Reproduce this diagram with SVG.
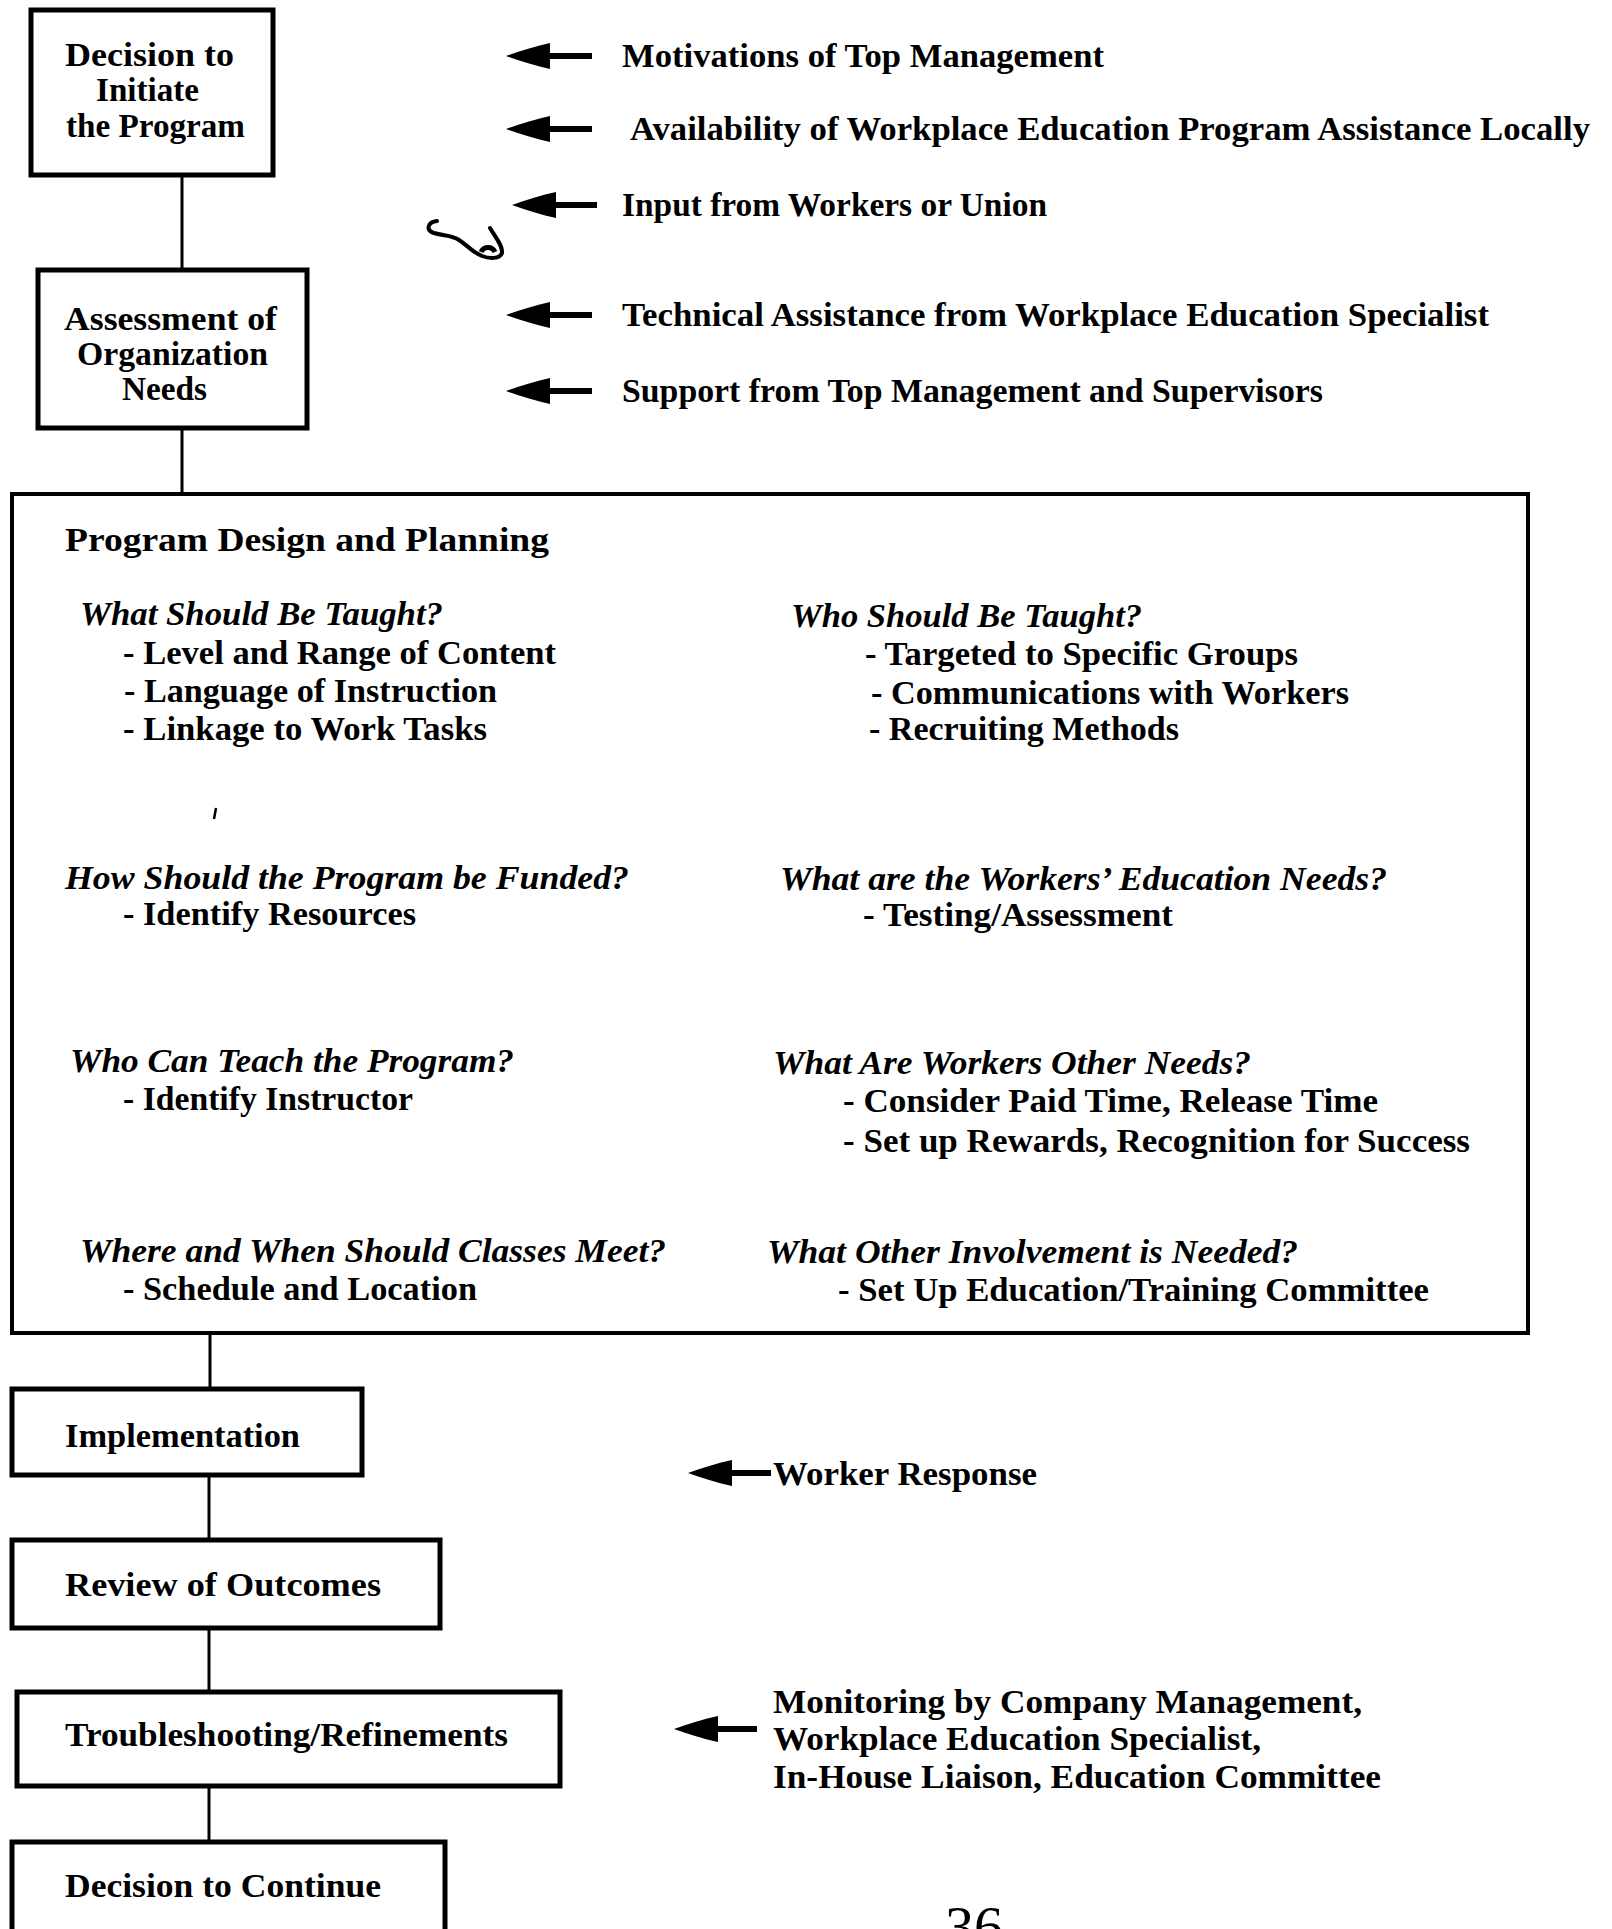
<svg xmlns="http://www.w3.org/2000/svg" width="1612" height="1929" viewBox="0 0 1612 1929">
<style>
text{font-family:"Liberation Serif","Times New Roman",serif;font-weight:bold;font-size:34px;fill:#000}
.it{font-style:italic}
.box{fill:none;stroke:#000;stroke-width:5}
.big{fill:none;stroke:#000;stroke-width:4}
.conn{stroke:#000;stroke-width:3;fill:none}
.arr{stroke:#000;stroke-width:6;fill:none;marker-end:url(#ah)}
</style>
<defs>
<marker id="ah" markerUnits="userSpaceOnUse" markerWidth="46" markerHeight="30" viewBox="0 -15 46 30" refX="20" refY="0" orient="auto">
<path d="M0,-13 C14,-10 30,-5 44,0 C30,5 14,10 0,13 Z" fill="#000"/>
</marker>
</defs>
<rect width="1612" height="1929" fill="#fff"/>

<g id="connectors">
<line class="conn" x1="182" y1="176" x2="182" y2="268"/>
<line class="conn" x1="182" y1="428" x2="182" y2="492"/>
<line class="conn" x1="210" y1="1335" x2="210" y2="1387"/>
<line class="conn" x1="209" y1="1477" x2="209" y2="1538"/>
<line class="conn" x1="209" y1="1630" x2="209" y2="1690"/>
<line class="conn" x1="209" y1="1788" x2="209" y2="1840"/>
<path class="arr" d="M592,56 L530,56"/>
<path class="arr" d="M592,129 L530,129"/>
<path class="arr" d="M597,205 L536,205"/>
<path class="arr" d="M592,315 L530,315"/>
<path class="arr" d="M592,391 L530,391"/>
<path class="arr" d="M771,1473 L712,1473"/>
<path class="arr" d="M757,1729 L698,1729"/>
</g>

<g id="decision-initiate">
<rect class="box" x="31" y="10" width="242" height="165"/>
<text x="65" y="66" textLength="169" lengthAdjust="spacingAndGlyphs">Decision to</text>
<text x="96" y="101" textLength="103" lengthAdjust="spacingAndGlyphs">Initiate</text>
<text x="66" y="137" textLength="179" lengthAdjust="spacingAndGlyphs">the Program</text>
</g>

<g id="assessment">
<rect class="box" x="38" y="270" width="269" height="158"/>
<text x="64" y="330" textLength="213" lengthAdjust="spacingAndGlyphs">Assessment of</text>
<text x="77" y="365" textLength="191" lengthAdjust="spacingAndGlyphs">Organization</text>
<text x="122" y="400" textLength="85" lengthAdjust="spacingAndGlyphs">Needs</text>
</g>

<g id="inputs-top">
<text x="622" y="67" textLength="482" lengthAdjust="spacingAndGlyphs">Motivations of Top Management</text>
<text x="630" y="140" textLength="960" lengthAdjust="spacingAndGlyphs">Availability of Workplace Education Program Assistance Locally</text>
<text x="622" y="216" textLength="425" lengthAdjust="spacingAndGlyphs">Input from Workers or Union</text>
<text x="622" y="326" textLength="867" lengthAdjust="spacingAndGlyphs">Technical Assistance from Workplace Education Specialist</text>
<text x="622" y="402" textLength="701" lengthAdjust="spacingAndGlyphs">Support from Top Management and Supervisors</text>
</g>

<g id="mark">
<path d="M437,221 C428,222 425,230 434,233 C444,236 452,235 459,240 C467,245 472,252 482,256 C490,259 500,259 502,253 C503,246 496,238 490,228" fill="none" stroke="#000" stroke-width="4" stroke-linecap="round"/>
<path d="M481,252 C484,246 492,246 495,252" fill="none" stroke="#000" stroke-width="5"/>
<line x1="216" y1="808" x2="214" y2="819" stroke="#000" stroke-width="2.5"/>
</g>

<g id="program-design">
<rect class="big" x="12" y="494" width="1516" height="839"/>
<text x="65" y="551" textLength="484" lengthAdjust="spacingAndGlyphs">Program Design and Planning</text>
<text class="it" x="80" y="625" textLength="363" lengthAdjust="spacingAndGlyphs">What Should Be Taught?</text>
<text x="123" y="664" textLength="433" lengthAdjust="spacingAndGlyphs">- Level and Range of Content</text>
<text x="124" y="702" textLength="373" lengthAdjust="spacingAndGlyphs">- Language of Instruction</text>
<text x="123" y="740" textLength="364" lengthAdjust="spacingAndGlyphs">- Linkage to Work Tasks</text>
<text class="it" x="65" y="889" textLength="564" lengthAdjust="spacingAndGlyphs">How Should the Program be Funded?</text>
<text x="123" y="925" textLength="293" lengthAdjust="spacingAndGlyphs">- Identify Resources</text>
<text class="it" x="70" y="1072" textLength="444" lengthAdjust="spacingAndGlyphs">Who Can Teach the Program?</text>
<text x="123" y="1110" textLength="290" lengthAdjust="spacingAndGlyphs">- Identify Instructor</text>
<text class="it" x="80" y="1262" textLength="586" lengthAdjust="spacingAndGlyphs">Where and When Should Classes Meet?</text>
<text x="123" y="1300" textLength="354" lengthAdjust="spacingAndGlyphs">- Schedule and Location</text>
<text class="it" x="791" y="627" textLength="351" lengthAdjust="spacingAndGlyphs">Who Should Be Taught?</text>
<text x="865" y="665" textLength="433" lengthAdjust="spacingAndGlyphs">- Targeted to Specific Groups</text>
<text x="871" y="704" textLength="478" lengthAdjust="spacingAndGlyphs">- Communications with Workers</text>
<text x="869" y="740" textLength="310" lengthAdjust="spacingAndGlyphs">- Recruiting Methods</text>
<text class="it" x="780" y="890" textLength="607" lengthAdjust="spacingAndGlyphs">What are the Workers’ Education Needs?</text>
<text x="863" y="926" textLength="310" lengthAdjust="spacingAndGlyphs">- Testing/Assessment</text>
<text class="it" x="773" y="1074" textLength="478" lengthAdjust="spacingAndGlyphs">What Are Workers Other Needs?</text>
<text x="843" y="1112" textLength="535" lengthAdjust="spacingAndGlyphs">- Consider Paid Time, Release Time</text>
<text x="843" y="1152" textLength="627" lengthAdjust="spacingAndGlyphs">- Set up Rewards, Recognition for Success</text>
<text class="it" x="767" y="1263" textLength="531" lengthAdjust="spacingAndGlyphs">What Other Involvement is Needed?</text>
<text x="838" y="1301" textLength="591" lengthAdjust="spacingAndGlyphs">- Set Up Education/Training Committee</text>
</g>

<g id="implementation">
<rect class="box" x="12" y="1389" width="350" height="86"/>
<text x="65" y="1447" textLength="235" lengthAdjust="spacingAndGlyphs">Implementation</text>
</g>
<g id="review">
<rect class="box" x="12" y="1540" width="428" height="88"/>
<text x="65" y="1596" textLength="316" lengthAdjust="spacingAndGlyphs">Review of Outcomes</text>
</g>
<g id="troubleshooting">
<rect class="box" x="17" y="1692" width="543" height="94"/>
<text x="65" y="1746" textLength="443" lengthAdjust="spacingAndGlyphs">Troubleshooting/Refinements</text>
</g>
<g id="decision-continue">
<rect class="box" x="12" y="1842" width="433" height="110"/>
<text x="65" y="1897" textLength="316" lengthAdjust="spacingAndGlyphs">Decision to Continue</text>
</g>

<g id="inputs-bottom">
<text x="773" y="1485" textLength="264" lengthAdjust="spacingAndGlyphs">Worker Response</text>
<text x="773" y="1713" textLength="589" lengthAdjust="spacingAndGlyphs">Monitoring by Company Management,</text>
<text x="773" y="1750" textLength="488" lengthAdjust="spacingAndGlyphs">Workplace Education Specialist,</text>
<text x="773" y="1788" textLength="608" lengthAdjust="spacingAndGlyphs">In-House Liaison, Education Committee</text>
</g>

<text x="945" y="1946" style="font-weight:normal;font-size:56px" textLength="58" lengthAdjust="spacingAndGlyphs">36</text>
</svg>
